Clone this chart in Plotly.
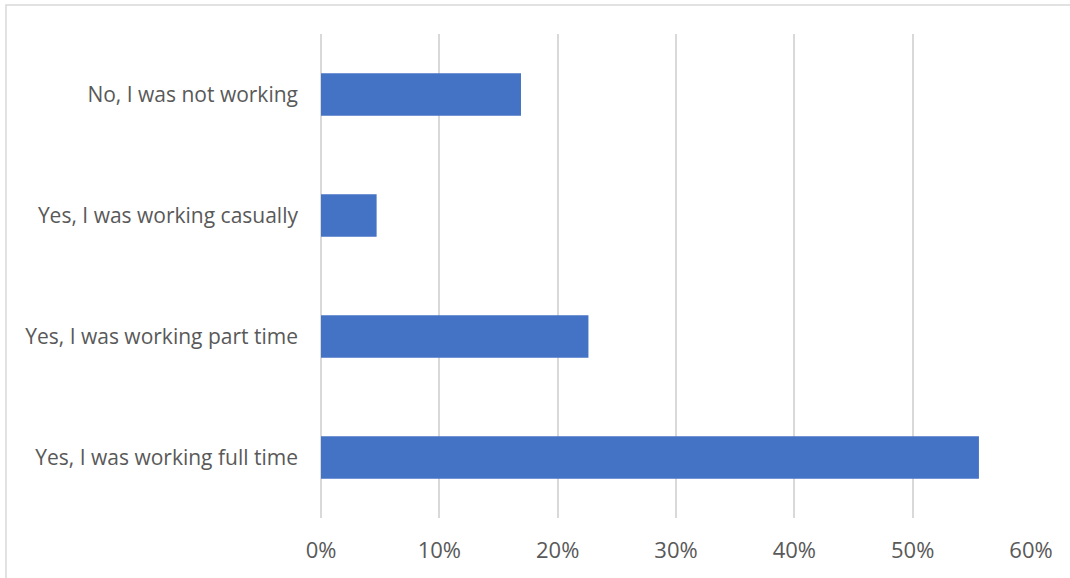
import plotly.graph_objects as go

categories = [
    "Yes, I was working full time",
    "Yes, I was working part time",
    "Yes, I was working casually",
    "No, I was not working",
]
shares = [0.556, 0.226, 0.047, 0.169]

tick_vals = [0, 0.1, 0.2, 0.3, 0.4, 0.5, 0.6]
tick_text = ["0%", "10%", "20%", "30%", "40%", "50%", "60%"]

text_color = "#595959"
font_family = "Open Sans, Noto Sans, sans-serif"

fig = go.Figure(
    go.Bar(
        x=shares,
        y=categories,
        orientation="h",
        marker=dict(color="#4472C4", line=dict(width=0)),
        hoverinfo="x+y",
    )
)

fig.update_layout(
    width=1070,
    height=578,
    margin=dict(l=321, r=39, t=34, b=60),
    paper_bgcolor="white",
    plot_bgcolor="white",
    bargap=0.65,
    showlegend=False,
    font=dict(family=font_family, size=21, color=text_color),
    shapes=[
        dict(
            type="rect", xref="paper", yref="paper",
            x0=-0.4437, x1=1.06, y0=-0.13, y1=1.06,
            line=dict(color="#D9D9D9", width=1.5),
            fillcolor="rgba(0,0,0,0)", layer="below",
        )
    ],
)

fig.update_xaxes(
    range=[0, 0.6],
    tickvals=tick_vals,
    ticktext=tick_text,
    showgrid=True,
    gridcolor="#D9D9D9",
    gridwidth=1.5,
    zeroline=True,
    zerolinecolor="#D9D9D9",
    zerolinewidth=1.5,
    showline=False,
    ticks="",
    ticklabelstandoff=17,
    tickfont=dict(size=22, color=text_color),
    fixedrange=True,
)

fig.update_yaxes(
    categoryorder="array",
    categoryarray=categories,
    showgrid=False,
    zeroline=False,
    showline=False,
    ticks="",
    ticklabelstandoff=22,
    tickfont=dict(size=21, color=text_color),
    fixedrange=True,
)

fig.write_html("out.html", config={"displayModeBar": False})
